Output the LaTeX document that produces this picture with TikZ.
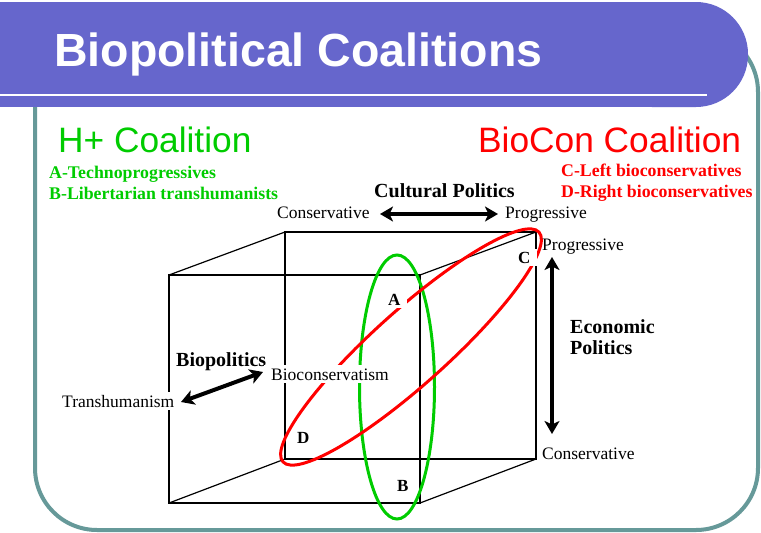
\documentclass[tikz,border=0pt]{standalone}
\usepackage{fontspec}
\setmainfont{Liberation Serif}
\newfontfamily\arialfont{Liberation Sans}
\usetikzlibrary{arrows.meta}
\definecolor{barblue}{HTML}{6666CC}
\definecolor{frameteal}{HTML}{669999}
\definecolor{hgreen}{HTML}{00CC00}
\definecolor{bred}{HTML}{FF0000}

\begin{document}
\begin{tikzpicture}[x=1pt,y=-1pt,
  txt/.style={inner sep=0pt, anchor=base west, font=\fontsize{17.5}{20}\selectfont},
  boldtxt/.style={inner sep=0pt, anchor=base west, font=\bfseries\fontsize{17.8}{20}\selectfont},
  axislabel/.style={inner sep=0pt, anchor=base west, font=\bfseries\fontsize{20}{22}\selectfont},
  masked/.style={txt, fill=white, inner xsep=7pt, inner ysep=3pt},
  corner/.style={inner sep=0pt, anchor=base west, font=\bfseries\fontsize{17}{20}\selectfont},
  cornermask/.style={corner, fill=white, inner xsep=7pt, inner ysep=3pt},
  headline/.style={inner sep=0pt, anchor=base west, font=\arialfont\fontsize{35.3}{40}\selectfont},
  dblarrow/.style={line width=4pt,
    {Stealth[length=13pt,width=15pt,inset=3.5pt]}-{Stealth[length=13pt,width=15pt,inset=3.5pt]}},
  cubeedge/.style={line width=1.2pt, black},
  loop/.style={line width=3pt}
]
\useasboundingbox (0,0) rectangle (761,533);
\fill[white] (0,0) rectangle (761,533);

% slide frame
\draw[frameteal, line width=4pt, rounded corners=62pt] (35,30) rectangle (758,530);

% title bar with rounded right end
\fill[barblue] (0,2) rectangle (700,107);
\fill[barblue, rounded corners=52pt] (600,2) rectangle (748,107);
\draw[white, line width=2.5pt] (0,95) -- (707,95);
\node[anchor=base west, inner sep=0pt, text=white,
      font=\arialfont\bfseries\fontsize{46.5}{50}\selectfont] (title) at (54,66) {Biopolitical Coalitions};

% coalition headings
\node[headline, text=hgreen] (hplus) at (58,152) {H+ Coalition};
\node[boldtxt, text=hgreen] (grpA) at (49,178) {A-Technoprogressives};
\node[boldtxt, text=hgreen] (grpB) at (49,199) {B-Libertarian transhumanists};
\node[headline, text=bred] (biocon) at (478,152) {BioCon Coalition};
\node[boldtxt, text=bred] (grpC) at (561,176) {C-Left bioconservatives};
\node[boldtxt, text=bred] (grpD) at (561,197) {D-Right bioconservatives};

% cultural axis
\node[axislabel] (cultural) at (374,197) {Cultural Politics};
\node[txt] (cultcons) at (277,218) {Conservative};
\node[txt] (cultprog) at (505,218) {Progressive};
\coordinate (cultL) at (380,214);
\coordinate (cultR) at (498,214);
\draw[dblarrow] (cultL) -- (cultR);

% cube
\coordinate (F1) at (169,275);
\coordinate (F2) at (420,275);
\coordinate (F3) at (420,503);
\coordinate (F4) at (169,503);
\coordinate (K1) at (285,232);
\coordinate (K2) at (536,232);
\coordinate (K3) at (536,459);
\coordinate (K4) at (285,459);
\draw[cubeedge] (K1) -- (K2) -- (K3) -- (K4) -- cycle;
\draw[cubeedge] (F1) -- (F2) -- (F3) -- (F4) -- cycle;
\draw[cubeedge] (F1) -- (K1) (F2) -- (K2) (F3) -- (K3) (F4) -- (K4);

% coalition loops
\draw[loop, hgreen] (397,387) ellipse [x radius=37.5, y radius=132];
\draw[loop, bred, rotate around={41.9:(411,347)}] (411,347) ellipse [x radius=172, y radius=37];

% biopolitics axis
\node[axislabel] (biopol) at (176,366) {Biopolitics};
\node[masked] (transh) at (55,407) {Transhumanism};
\node[masked] (biocons) at (264,380) {Bioconservatism};
\coordinate (bioL) at (181,402);
\coordinate (bioR) at (263,372);
\draw[dblarrow] (bioL) -- (bioR);

% economic axis
\node[txt] (ecoprog) at (542,250) {Progressive};
\node[txt] (ecocons) at (542,459) {Conservative};
\node[axislabel] (econ1) at (570,333) {Economic};
\node[axislabel] (econ2) at (570,354) {Politics};
\coordinate (ecoT) at (552,257);
\coordinate (ecoB) at (552,434);
\draw[dblarrow] (ecoT) -- (ecoB);

% group markers
\node[cornermask] (ptA) at (381,305) {A};
\node[corner] (ptB) at (397,491) {B};
\node[cornermask] (ptC) at (511,263) {C};
\node[corner] (ptD) at (297,443) {D};
\end{tikzpicture}
\end{document}
